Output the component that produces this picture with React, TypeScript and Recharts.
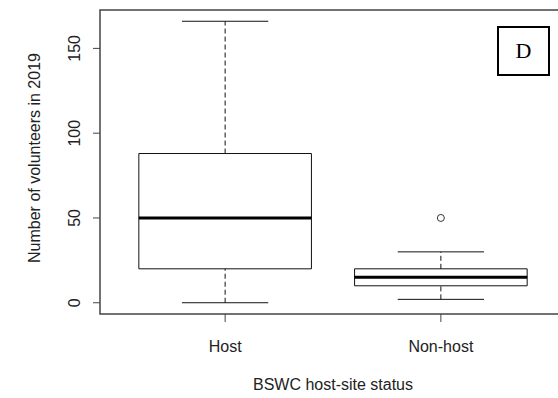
import {
  ComposedChart,
  ReferenceArea,
  ReferenceLine,
  Scatter,
  XAxis,
  YAxis,
} from 'recharts';

const categories = ['Host', 'Non-host'];
const positions = [1, 2];
const mins = [0, 2];
const q1s = [20, 10];
const medians = [50, 15];
const q3s = [88, 20];
const maxs = [166, 30];
const outliers = [{ x: 2, y: 50 }];
const yTicks = [0, 50, 100, 150];

const FONT = '"Liberation Sans", Arial, sans-serif';
const INK = '#111';
const BOX_HALF = 0.4;
const CAP_HALF = 0.2;

function XTick(props: any) {
  const { x, y, payload } = props;
  const label = categories[positions.indexOf(payload.value)] ?? '';
  return (
    <text x={x} y={y + 28} textAnchor="middle" fontFamily={FONT} fontSize={16} fill="#222">
      {label}
    </text>
  );
}

function YTick(props: any) {
  const { x, y, payload } = props;
  return (
    <text
      x={x}
      y={y}
      transform={`rotate(-90, ${x}, ${y})`}
      textAnchor="middle"
      fontFamily={FONT}
      fontSize={16}
      fill="#222"
    >
      {payload.value}
    </text>
  );
}

export default function App() {
  return (
    <div
      style={{
        position: 'fixed',
        left: 0,
        top: 0,
        width: 558,
        height: 398,
        overflow: 'hidden',
        background: '#fff',
      }}
    >
      <ComposedChart width={580} height={398} margin={{ top: 10, right: 14, bottom: 0, left: 0 }}>
        <XAxis
          type="number"
          dataKey="x"
          domain={[0.42, 2.58]}
          ticks={positions}
          allowDataOverflow
          height={84}
          axisLine={false}
          tickSize={8}
          tickLine={{ stroke: '#444' }}
          tick={<XTick />}
          label={{
            content: ({ viewBox }: any) => (
              <text
                x={viewBox.x + viewBox.width / 2}
                y={viewBox.y + 76}
                textAnchor="middle"
                fontFamily={FONT}
                fontSize={16}
                fill="#222"
              >
                BSWC host-site status
              </text>
            ),
          }}
        />
        <YAxis
          type="number"
          dataKey="y"
          domain={[-6.64, 172.64]}
          ticks={yTicks}
          allowDataOverflow
          width={100}
          axisLine={false}
          tickSize={7}
          tickMargin={13}
          tickLine={{ stroke: '#444' }}
          tick={<YTick />}
          label={{
            content: ({ viewBox }: any) => {
              const cx = viewBox.x + 40;
              const cy = viewBox.y + viewBox.height / 2 - 4;
              return (
                <text
                  x={cx}
                  y={cy}
                  transform={`rotate(-90, ${cx}, ${cy})`}
                  textAnchor="middle"
                  fontFamily={FONT}
                  fontSize={16}
                  fill="#222"
                >
                  Number of volunteers in 2019
                </text>
              );
            },
          }}
        />

        {/* plot frame */}
        <ReferenceArea
          x1={0.42}
          x2={2.58}
          y1={-6.64}
          y2={172.64}
          fill="none"
          fillOpacity={0}
          stroke="#444"
          strokeWidth={1.5}
        />

        {positions.map((p, i) => (
          <ReferenceLine
            key={`wu-${i}`}
            segment={[{ x: p, y: q3s[i] }, { x: p, y: maxs[i] }]}
            stroke={INK}
            strokeDasharray="5 3"
          />
        ))}
        {positions.map((p, i) => (
          <ReferenceLine
            key={`wl-${i}`}
            segment={[{ x: p, y: mins[i] }, { x: p, y: q1s[i] }]}
            stroke={INK}
            strokeDasharray="5 3"
          />
        ))}
        {positions.map((p, i) => (
          <ReferenceLine
            key={`cu-${i}`}
            segment={[{ x: p - CAP_HALF, y: maxs[i] }, { x: p + CAP_HALF, y: maxs[i] }]}
            stroke={INK}
          />
        ))}
        {positions.map((p, i) => (
          <ReferenceLine
            key={`cl-${i}`}
            segment={[{ x: p - CAP_HALF, y: mins[i] }, { x: p + CAP_HALF, y: mins[i] }]}
            stroke={INK}
          />
        ))}
        {positions.map((p, i) => (
          <ReferenceArea
            key={`box-${i}`}
            x1={p - BOX_HALF}
            x2={p + BOX_HALF}
            y1={q1s[i]}
            y2={q3s[i]}
            fill="#fff"
            fillOpacity={1}
            stroke={INK}
            strokeWidth={1}
          />
        ))}
        {positions.map((p, i) => (
          <ReferenceLine
            key={`med-${i}`}
            segment={[{ x: p - BOX_HALF, y: medians[i] }, { x: p + BOX_HALF, y: medians[i] }]}
            stroke="#000"
            strokeWidth={3}
          />
        ))}

        <Scatter
          data={outliers}
          dataKey="y"
          isAnimationActive={false}
          shape={(props: any) => (
            <circle cx={props.cx} cy={props.cy} r={3.5} fill="#fff" stroke="#333" strokeWidth={1} />
          )}
        />
      </ComposedChart>

      <div
        style={{
          position: 'absolute',
          left: 497,
          top: 26,
          width: 49,
          height: 46,
          border: '2px solid #000',
          display: 'flex',
          alignItems: 'center',
          justifyContent: 'center',
          fontFamily: '"Liberation Serif", "Times New Roman", serif',
          fontSize: 22,
          color: '#000',
          boxSizing: 'content-box',
        }}
      >
        D
      </div>
    </div>
  );
}
